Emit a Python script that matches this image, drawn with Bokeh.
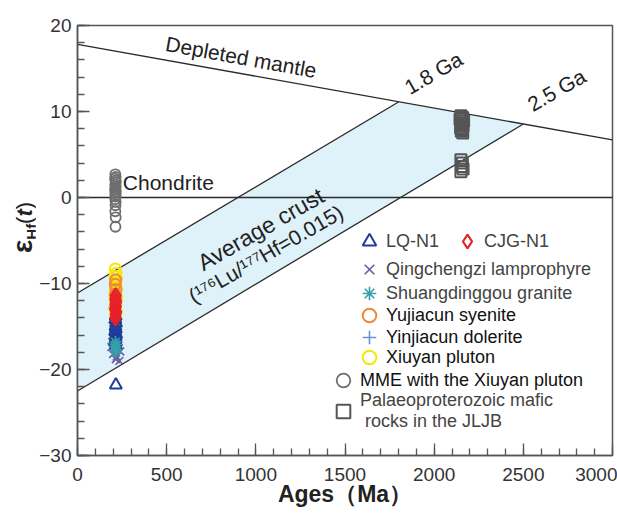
from math import radians
from bokeh.plotting import figure
from bokeh.layouts import row
from bokeh.models import Range1d, Label, Legend, LegendItem, SingleIntervalTicker, Div
from bokeh.embed import file_html
from bokeh.resources import INLINE

# ---------------- data ----------------
# reference evolution lines (age Ma, epsilon Hf)
dm_age = [0, 3000]
dm_eps = [17.8, 6.7]
chondrite_age = [0, 3000]
chondrite_eps = [0, 0]
crust18_age = [0, 1800]
crust18_eps = [-11.1, 11.1]
crust25_age = [0, 2500]
crust25_eps = [-22.5, 8.55]

xiuyan_age = [212, 216, 210, 218, 214, 211, 217, 213, 215, 209, 219, 212, 216, 214, 210, 218, 213, 215, 211, 217, 214, 212]
xiuyan_eps = [-8.3, -8.8, -9.2, -9.5, -9.9, -10.2, -10.5, -10.8, -11.0, -11.3, -11.6, -11.9, -12.2, -12.5, -12.9, -13.3, -13.7, -14.1, -14.6, -15.0, -15.5, -16.0]
yujiacun_age = [214, 212, 216, 213, 215, 211]
yujiacun_eps = [-9.6, -10.1, -10.7, -11.3, -12.0, -12.8]
qing_age = [205, 225, 195, 230, 210, 240, 200, 220, 215, 235, 190]
qing_eps = [-15.8, -16.3, -16.8, -17.2, -17.6, -17.9, -18.2, -18.5, -18.8, -19.0, -17.4]
yinjia_age = [213, 216, 211, 215, 214]
yinjia_eps = [-14.0, -14.6, -15.2, -15.8, -16.3]
lq_age = [214, 212, 216, 213, 215, 211, 217, 214, 212, 216, 214, 215]
lq_eps = [-13.8, -14.2, -14.6, -15.0, -15.3, -15.6, -15.9, -16.2, -16.5, -16.8, -17.1, -21.8]
shuang_age = [213, 216, 211, 215, 214]
shuang_eps = [-16.8, -17.1, -17.4, -17.7, -18.0]
cjg_age = [214, 212, 216, 213, 215, 211, 217, 214, 213]
cjg_eps = [-11.4, -11.8, -12.1, -12.4, -12.7, -13.0, -13.3, -13.6, -14.0]
mme_age = [212, 214, 211, 213, 215, 212, 214, 213, 211, 215, 212, 214, 213, 212, 214, 213, 212, 214, 213]
mme_eps = [2.7, 2.4, 2.2, 2.0, 1.8, 1.5, 1.3, 1.1, 0.9, 0.7, 0.5, 0.3, 0.1, -0.2, -0.5, -0.9, -1.6, -2.3, -3.4]
paleo_age = [2150, 2160, 2145, 2165, 2155, 2150, 2162, 2148, 2158, 2152, 2160, 2150, 2158, 2155, 2162, 2150]
paleo_eps = [9.5, 9.3, 9.1, 8.9, 8.7, 8.5, 8.3, 8.1, 7.9, 7.7, 7.5, 4.4, 4.0, 3.6, 3.3, 3.0]

x_ticks_interval = 500
y_ticks_interval = 10
y_label_overrides = {-30: "\u221230", -20: "\u221220", -10: "\u221210", 0: "0", 10: "10", 20: "20"}

FONT = "Liberation Sans"
TXT = "#222222"
YT_W = 35

p = figure(width=617 - YT_W, height=513, x_range=Range1d(0, 3000), y_range=Range1d(-30, 20),
           output_backend="svg", toolbar_location=None,
           min_border_left=77 - YT_W, min_border_right=5, min_border_top=25, min_border_bottom=58)
p.xgrid.visible = False
p.ygrid.visible = False
p.outline_line_color = "#555555"
p.outline_line_width = 1.5
p.background_fill_color = "white"
p.border_fill_color = "white"

for ax, iv in ((p.xaxis, x_ticks_interval), (p.yaxis, y_ticks_interval)):
    ax.ticker = SingleIntervalTicker(interval=iv, num_minor_ticks=5)
    ax.axis_line_color = "#555555"
    ax.axis_line_width = 1.5
    ax.major_tick_line_color = "#555555"
    ax.minor_tick_line_color = "#555555"
    ax.major_tick_line_width = 1.3
    ax.minor_tick_line_width = 1.3
    ax.major_tick_in = 12
    ax.major_tick_out = 0
    ax.minor_tick_in = 7
    ax.minor_tick_out = 0
    ax.major_label_text_font = FONT
    ax.major_label_text_font_size = "19px"
    ax.major_label_text_color = "#333333"
p.xaxis.major_label_standoff = 12
p.yaxis.major_label_standoff = 6
p.yaxis.major_label_overrides = y_label_overrides
p.xaxis.axis_label = "Ages\uff08Ma\uff09"
p.xaxis.axis_label_text_font = FONT
p.xaxis.axis_label_text_font_size = "23px"
p.xaxis.axis_label_text_font_style = "bold"
p.xaxis.axis_label_text_color = TXT
p.xaxis.axis_label_standoff = -3

# band of average crust
band_x = [crust18_age[0], crust18_age[1], crust25_age[1], crust25_age[0]]
band_y = [crust18_eps[0], crust18_eps[1], crust25_eps[1], crust25_eps[0]]
p.patch(band_x, band_y, fill_color="#dff1f9", line_color=None)

for xs, ys in ((dm_age, dm_eps), (chondrite_age, chondrite_eps), (crust18_age, crust18_eps), (crust25_age, crust25_eps)):
    p.line(xs, ys, line_color="#2a2a2a", line_width=1.3)

# data points
r_xiuyan = p.scatter(xiuyan_age, xiuyan_eps, marker="circle", size=11, fill_color=None, line_color="#f6e600", line_width=2)
r_yuj = p.scatter(yujiacun_age, yujiacun_eps, marker="circle", size=11, fill_color=None, line_color="#f08a3a", line_width=2)
r_qing = p.scatter(qing_age, qing_eps, marker="x", size=11, line_color="#6d5aa0", line_width=1.6)
r_yinj = p.scatter(yinjia_age, yinjia_eps, marker="cross", size=12, line_color="#6f91d2", line_width=1.6)
r_lq = p.scatter(lq_age, lq_eps, marker="triangle", size=12, fill_color=None, line_color="#1f3c9c", line_width=2)
r_sh = p.scatter(shuang_age, shuang_eps, marker="asterisk", size=12, line_color="#34a0a8", line_width=1.6)
r_cjg = p.scatter(cjg_age, cjg_eps, marker="diamond", size=15, fill_color=None, line_color="#e8202a", line_width=2.2)
r_mme = p.scatter(mme_age, mme_eps, marker="circle", size=10, fill_color=None, line_color="#6e6e6e", line_width=1.8)
r_paleo = p.scatter(paleo_age, paleo_eps, marker="square", size=11, fill_color=None, line_color="#555555", line_width=2)

# legends: one per row so each row can sit where the reference puts it
def mk_legend(label, rend, loc, color, standoff=-3):
    lg = Legend(items=[LegendItem(label=label, renderers=[rend])], location=loc,
                glyph_width=34, glyph_height=34, label_height=20, spacing=0,
                label_standoff=standoff, padding=0, margin=0,
                border_line_alpha=0, background_fill_alpha=0,
                label_text_font=FONT, label_text_font_size="18px",
                label_text_color=color)
    p.add_layout(lg)

mk_legend("LQ-N1", r_lq, (275, 197), "#444444")
mk_legend("CJG-N1", r_cjg, (373, 197), "#444444")
mk_legend("Qingchengzi lamprophyre", r_qing, (275, 169), "#444444")
mk_legend("Shuangdinggou granite", r_sh, (275, 145), "#444444")
mk_legend("Yujiacun syenite", r_yuj, (275, 123), "#111111")
mk_legend("Yinjiacun dolerite", r_yinj, (275, 101), "#111111")
mk_legend("Xiuyan pluton", r_xiuyan, (275, 81), "#111111")
mk_legend("MME with the Xiuyan pluton", r_mme, (249, 58), "#111111", standoff=0)
mk_legend("Palaeoproterozoic mafic\n rocks in the JLJB", r_paleo, (249, 23), "#444444", standoff=0)

# annotations in data space
def lab(x, y, text, size, angle=0.0, **kw):
    p.add_layout(Label(x=x, y=y, text=text, angle=angle, text_font=FONT,
                       text_font_size=size, text_color=TXT, **kw))

lab(484, 16.6, "Depleted mantle", "21px", angle=radians(-10.3))
lab(1875, 11.5, "1.8 Ga", "21px", angle=radians(30))
lab(2565, 9.5, "2.5 Ga", "21px", angle=radians(30))
lab(254, 1.75, "Chondrite", "21px", text_baseline="middle")
lab(720, -9.1, "Average crust", "23px", angle=radians(30))
lab(664, -12.8, "(\u00b9\u2077\u2076Lu/\u00b9\u2077\u2077Hf=0.015)", "21px", angle=radians(30))

# y-axis title as real HTML text, rotated to read bottom-to-top
ytitle_html = (
    '<div style="position:relative;width:35px;height:513px;">'
    '<div style="position:absolute;left:8px;top:253px;transform:rotate(-90deg);transform-origin:0 0;'
    "white-space:nowrap;font-family:'Liberation Sans',sans-serif;color:#222;line-height:30px;\">"
    '<span style="font-size:28px;font-weight:bold;">\u03b5</span>'
    '<span style="font-size:15px;font-weight:bold;position:relative;top:5px;">Hf</span>'
    '<span style="font-size:22px;">(<b><i>t</i></b>)</span>'
    '</div></div>'
)
ytitle = Div(text=ytitle_html, width=YT_W, height=513, margin=0)

layout = row(ytitle, p, spacing=0)
open("out.html", "w").write(file_html(layout, INLINE))
